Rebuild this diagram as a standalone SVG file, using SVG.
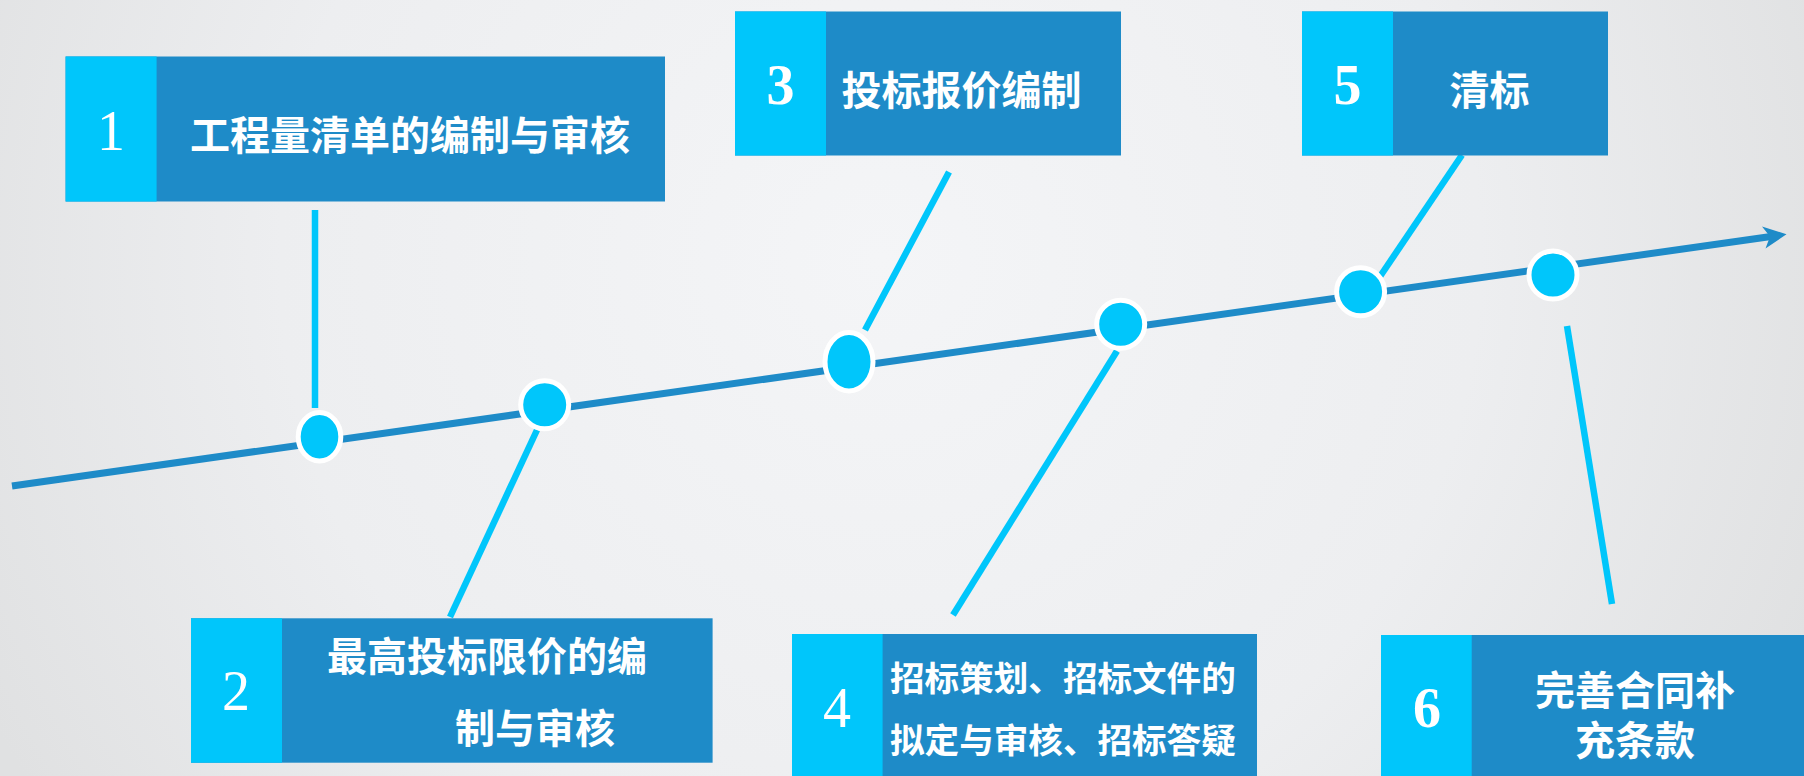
<svg xmlns="http://www.w3.org/2000/svg" width="1804" height="776" viewBox="0 0 1804 776">
<defs>
<radialGradient id="bg" cx="880" cy="260" r="1000" gradientUnits="userSpaceOnUse">
<stop offset="0" stop-color="#F4F5F7"/>
<stop offset="0.6" stop-color="#EDEEF0"/>
<stop offset="1" stop-color="#E0E1E2"/>
</radialGradient>
<style>
.cyan{fill:#00C6FB}
.blue{fill:#1E8BC8}
.br{stroke:#00C6FB;stroke-width:6.5;fill:none}
.dot{fill:#00C6FB;stroke:#FFFFFF;stroke-width:5}
.num{font-family:"Liberation Serif","Times New Roman",serif;font-size:56px;fill:#FFFFFF;text-anchor:middle}
.t{font-family:"Noto Sans CJK SC","Noto Sans",sans-serif;font-weight:bold;fill:#FFFFFF;dominant-baseline:central}
</style>
</defs>
<rect x="0" y="0" width="1804" height="776" fill="url(#bg)"/>
<g id="connectors">
<line x1="12" y1="486" x2="1771" y2="236.5" stroke="#1E8BC8" stroke-width="7"/>
<polygon points="1786.5,234.3 1762,226.5 1770,236.6 1765.5,248.5" fill="#1E8BC8"/>
<line class="br" x1="315" y1="210" x2="315" y2="408"/>
<line class="br" x1="537" y1="430" x2="450" y2="617"/>
<line class="br" x1="949" y1="172" x2="865" y2="330"/>
<line class="br" x1="1117" y1="351" x2="953" y2="615"/>
<line class="br" x1="1462" y1="155" x2="1379" y2="278"/>
<line class="br" x1="1567" y1="326" x2="1612" y2="604"/>
</g>
<g id="dots">
<ellipse class="dot" cx="319.5" cy="436.7" rx="21.3" ry="24.2"/>
<circle class="dot" cx="544.7" cy="404.7" r="24"/>
<ellipse class="dot" cx="849" cy="361.7" rx="24" ry="29.2"/>
<circle class="dot" cx="1120.7" cy="324.3" r="24"/>
<circle class="dot" cx="1360.6" cy="291.7" r="24"/>
<circle class="dot" cx="1553" cy="275" r="24"/>
</g>
<g id="node1">
<rect class="blue" x="65.6" y="56.5" width="599.4" height="145"/>
<rect class="cyan" x="65.6" y="56.5" width="91" height="145"/>
<text class="num" x="111" y="150">1</text>
<text class="t" x="410" y="133" font-size="40" text-anchor="middle">工程量清单的编制与审核</text>
</g>
<g id="node2">
<rect class="blue" x="191" y="618.3" width="521.6" height="144.4"/>
<rect class="cyan" x="191" y="618.3" width="91" height="144.4"/>
<text class="num" x="236" y="710">2</text>
<text class="t" x="327" y="654" font-size="40">最高投标限价的编</text>
<text class="t" x="455" y="726" font-size="40">制与审核</text>
</g>
<g id="node3">
<rect class="blue" x="735" y="11.5" width="386" height="144"/>
<rect class="cyan" x="735" y="11.5" width="91" height="144"/>
<text class="num" x="780.5" y="104" font-weight="bold">3</text>
<text class="t" x="841.5" y="88" font-size="40">投标报价编制</text>
</g>
<g id="node4">
<rect class="blue" x="792" y="634" width="465" height="142"/>
<rect class="cyan" x="792" y="634" width="90.6" height="142"/>
<text class="num" x="837" y="726.5">4</text>
<text class="t" x="890" y="676" font-size="34.6">招标策划、招标文件的</text>
<text class="t" x="890" y="738" font-size="34.6">拟定与审核、招标答疑</text>
</g>
<g id="node5">
<rect class="blue" x="1302" y="11.5" width="306" height="144"/>
<rect class="cyan" x="1302" y="11.5" width="91" height="144"/>
<text class="num" x="1347.5" y="104" font-weight="bold">5</text>
<text class="t" x="1489.5" y="88" font-size="40" text-anchor="middle">清标</text>
</g>
<g id="node6">
<rect class="blue" x="1381" y="635" width="423" height="141"/>
<rect class="cyan" x="1381" y="635" width="90.7" height="141"/>
<text class="num" x="1427" y="727" font-weight="bold">6</text>
<text class="t" x="1635" y="688" font-size="40" text-anchor="middle">完善合同补</text>
<text class="t" x="1635" y="738" font-size="40" text-anchor="middle">充条款</text>
</g>
</svg>
